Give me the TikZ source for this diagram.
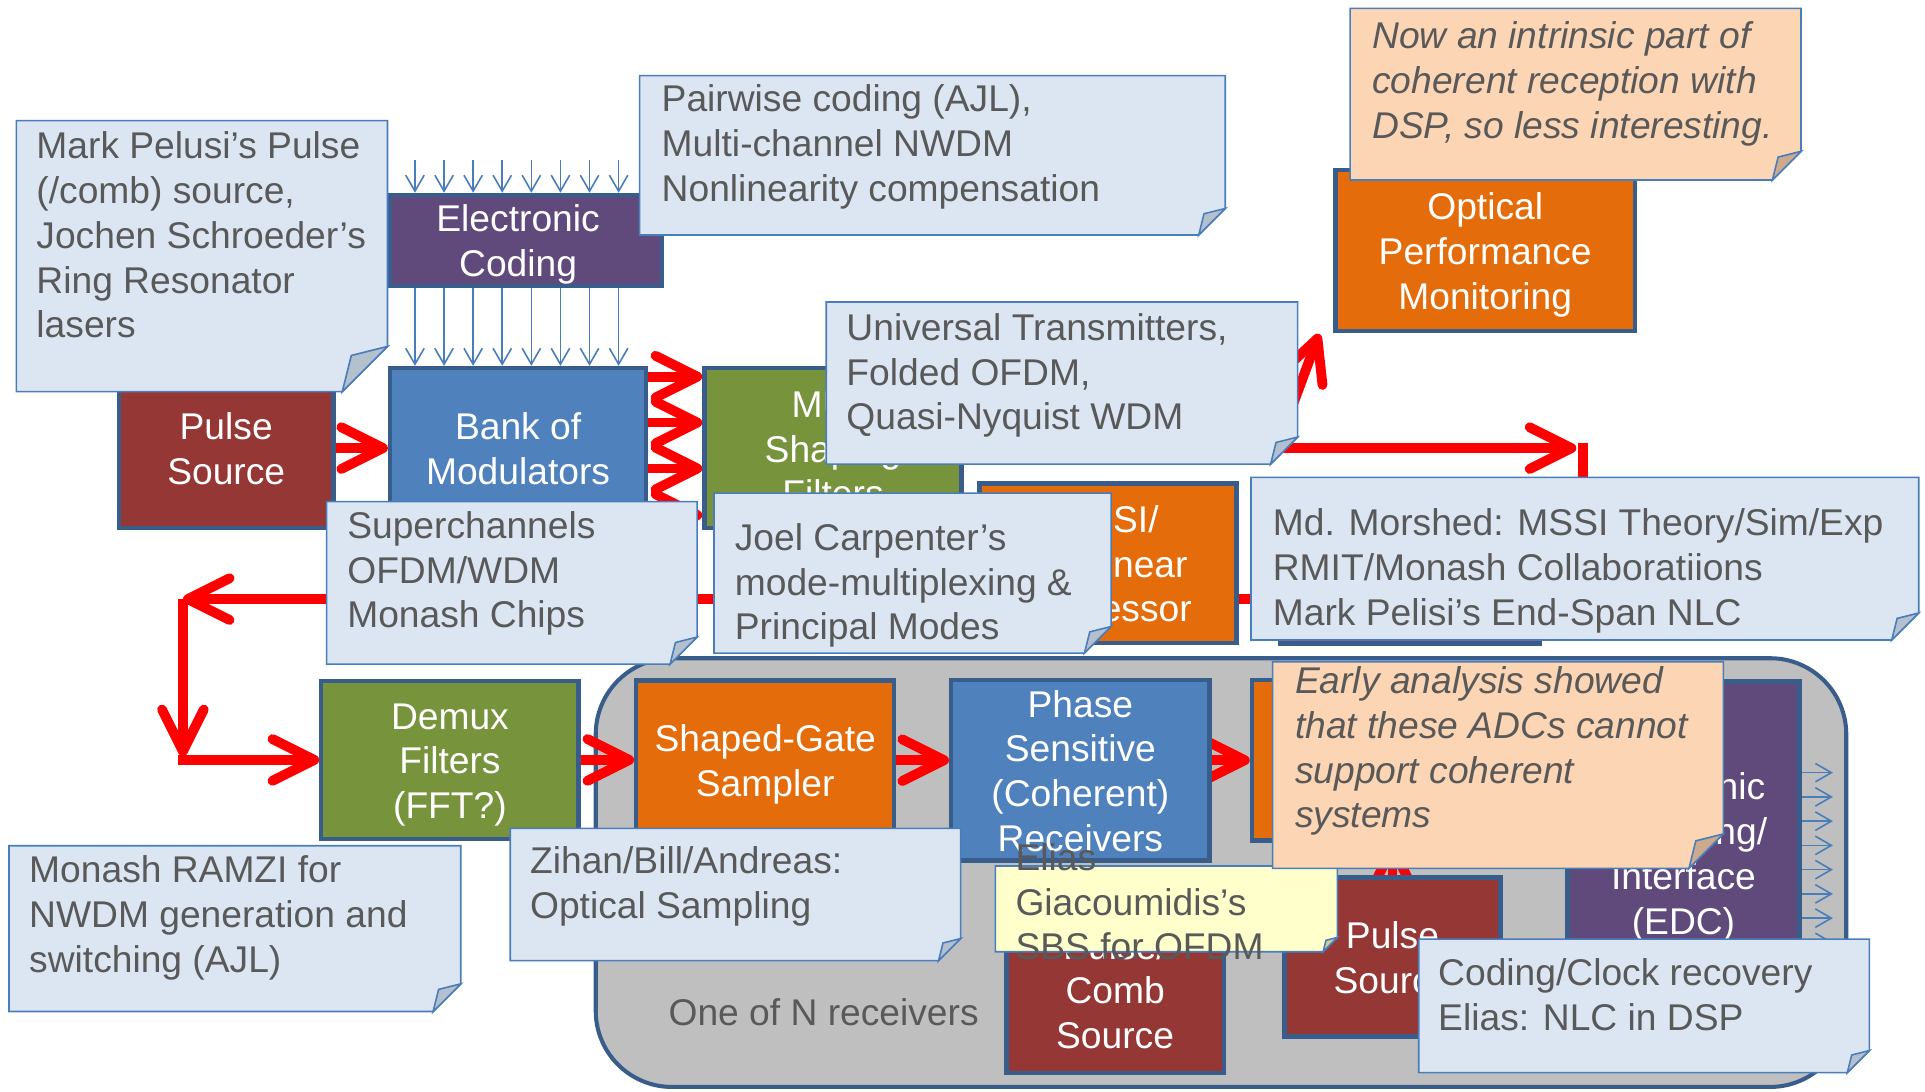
\documentclass[tikz,border=0pt]{standalone}
\usepackage{fontspec}
\setmainfont{Liberation Sans}
\usetikzlibrary{arrows.meta,calc}
\definecolor{cbord}{HTML}{4A7EBB}
\definecolor{cfill}{HTML}{DCE6F2}
\definecolor{cfold}{HTML}{B4C0CE}
\definecolor{pfill}{HTML}{FCD5B5}
\definecolor{pfold}{HTML}{CBAA8E}
\definecolor{yfill}{HTML}{FFFFCC}
\definecolor{yfold}{HTML}{CCCCA0}
\definecolor{bbord}{HTML}{385D8A}
\definecolor{cbrown}{HTML}{953735}
\definecolor{cpurple}{HTML}{604A7B}
\definecolor{cblue}{HTML}{4F81BD}
\definecolor{cgreen}{HTML}{77933C}
\definecolor{corange}{HTML}{E46C0A}
\definecolor{cgray}{HTML}{BFBFBF}
\definecolor{tgray}{HTML}{595959}
\newcommand\bstrut{\rule[-6.9pt]{0pt}{36.5pt}}
\newcommand\cfont{\fontsize{30.3pt}{36.5pt}\selectfont}
\pgfdeclarelayer{back}
\pgfdeclarelayer{lines}
\pgfsetlayers{back,lines,main}
\newcommand\callout[7]{%
 \draw[cline, fill=#5] (#1,#2) -- (#3,#2) -- (#3,{#4-#7}) -- ({#3-#7},#4) -- (#1,#4) -- cycle;
 \draw[cline, fill=#6] (#3,{#4-#7}) -- ({#3-#7},#4) -- ({#3-0.8*#7},{#4-0.8*#7}) -- cycle;}
\begin{document}
\begin{tikzpicture}[x=1pt,y=-1pt,
 block/.style={draw=bbord, line width=3.5pt, text=white, font=\cfont, align=center, inner sep=0pt},
 ctext/.style={anchor=north west, inner sep=0pt, text=tgray, font=\cfont, align=left},
 cline/.style={draw=cbord, line width=1.3pt, line join=miter},
 redarr/.style={draw=red, line width=8pt, -{Straight Barb[length=34pt,width=34pt,round]}},
 bluearr/.style={draw=cbord, line width=1.3pt, -{Straight Barb[length=13pt,width=15pt]}},
]
\useasboundingbox (0,0) rectangle (1568,889);
\begin{pgfonlayer}{back}
\fill[white] (0,0) rectangle (1568,889);
\node[draw=bbord, line width=3.3pt, fill=cgray, rounded corners=62pt, inner sep=0pt,
  minimum width=1018.6pt, minimum height=349.2pt] (region) at (994.55,710.75) {};
\end{pgfonlayer}

% blocks
\node[block, fill=cbrown, minimum width=175pt, minimum height=130.5pt] (ps1) at (184.25,365) {\bstrut Pulse\\Source\bstrut};
\node[block, fill=cpurple, minimum width=221.5pt, minimum height=74pt] (ec) at (428.5,195.75) {\bstrut Electronic\kern13pt\\Coding\kern13pt\bstrut};
\node[block, fill=cblue, minimum width=208.5pt, minimum height=130.5pt] (bank) at (422,365) {\bstrut Bank of\\Modulators\bstrut};
\node[block, fill=cgreen, minimum width=209.5pt, minimum height=130.5pt] (mux) at (678.5,365) {\bstrut MUX\\Shaping\\Filters\bstrut};
\node[block, fill=corange, minimum width=209.5pt, minimum height=130pt] (mssi) at (902.5,458.75) {\bstrut MSSI/\\Nonlinear\\Processor\bstrut};
\node[block, fill=cpurple, minimum width=211.5pt, minimum height=131pt] (hid) at (1148.5,459.25) {};
\node[block, fill=corange, minimum width=244pt, minimum height=131pt] (opm) at (1209.75,204.25) {\bstrut Optical\\Performance\\Monitoring\bstrut};
\node[block, fill=cgreen, minimum width=209.5pt, minimum height=128.5pt] (demux) at (366.5,619) {\bstrut Demux\\Filters\\(FFT?)\bstrut};
\node[block, fill=corange, minimum width=210pt, minimum height=130pt] (sgs) at (623.25,619.2) {\bstrut Shaped-Gate\\Sampler\bstrut};
\node[block, fill=cblue, minimum width=210.5pt, minimum height=146.8pt] (psr) at (880,627.55) {\bstrut Phase\\Sensitive\\(Coherent)\\Receivers\bstrut};
\node[block, fill=corange, minimum width=210.5pt, minimum height=130.5pt] (adc) at (1125,619.4) {};
\node[block, fill=cbrown, minimum width=177pt, minimum height=135pt] (pcs) at (908.3,806.3) {\bstrut Pulse/\\Comb\\Source\bstrut};
\node[block, fill=cbrown, minimum width=176pt, minimum height=129.5pt] (ps2) at (1134.25,779.5) {\bstrut Pulse\\Source\bstrut};
\node[block, fill=cpurple, minimum width=189pt, minimum height=280pt] (edc) at (1371.25,695) {\bstrut Electronic\\Decoding/\\Interface\\(EDC)\bstrut};
\node[ctext] (oneN) at (544.4,805.4) {\bstrut One of N receivers};

% connectors
\begin{pgfonlayer}{lines}
\draw[redarr] (ps1.east) -- (bank.west);
\foreach \s in {58.2pt,20.8pt,-16.6pt,-54.6pt}
  \draw[redarr] ([yshift=\s]bank.east) -- ([yshift=\s]mux.west);
\coordinate (k1) at (1284,365);
\draw[redarr] (mux.east) -- (k1);
\coordinate (k7) at (1040,365);
\draw[redarr] (k7) -- ($(opm.south west)+(-11.5,0.5)$);
\coordinate (k2) at (1289.5,361);
\coordinate (k3) at (1289.5,488);
\coordinate (k4) at (149,488);
\coordinate (k5) at (149,616);
\coordinate (k6) at (145,619);
\draw[redarr] (k2) -- (k3) -- (k4);
\draw[redarr] (k4) -- (k5);
\draw[redarr] (k6) -- (k6 -| demux.west);
\draw[redarr] (demux.east) -- (demux.east -| sgs.west);
\draw[redarr] (sgs.east) -- (sgs.east -| psr.west);
\draw[redarr] (sgs.east -| psr.east) -- (sgs.east -| adc.west);
\draw[redarr] (ps2.north) -- (ps2.north |- adc.south);
\foreach \i in {0,...,7} {
  \draw[bluearr] ($(ec.north west)+({22+23.7*\i},-27)$) -- ($(ec.north west)+({22+23.7*\i},0)$);
  \draw[bluearr] ($(ec.south west)+({22+23.7*\i},0)$) -- ($(bank.north west)+({22+23.7*\i},0)$);
  \draw[bluearr] ($(edc.north east)+(0,{76.1+19.75*\i})$) -- ++(25.5,0);
}
\end{pgfonlayer}

% callouts
\callout{13.4}{98.3}{315.6}{319}{cfill}{cfold}{36.8}
\node[ctext] (tmark) at (29.5,99.4) {\bstrut Mark Pelusi’s Pulse\\(/comb) source,\\Jochen Schroeder’s\\Ring Resonator\\lasers};
\callout{521}{61.6}{998}{191.4}{cfill}{cfold}{21.6}
\node[ctext] (tpair) at (538.8,61.4) {\bstrut Pairwise coding (AJL),\\Multi-channel NWDM\\Nonlinearity compensation};
\callout{1099.7}{6.8}{1467}{146.6}{pfill}{pfold}{23.3}
\node[ctext, font=\cfont\itshape] (tnow) at (1117.6,9.8) {\bstrut Now an intrinsic part of\\coherent reception with\\DSP, so less interesting.};
\callout{673}{246}{1057}{378}{cfill}{cfold}{22}
\node[ctext] (tuniv) at (689.3,247.4) {\bstrut Universal Transmitters,\\Folded OFDM,\\Quasi-Nyquist WDM};
\callout{266}{408.6}{567.8}{540.9}{cfill}{cfold}{22}
\node[ctext] (tsuper) at (282.7,408.7) {\bstrut Superchannels\\OFDM/WDM\\Monash Chips};
\callout{581.6}{401.7}{905}{532}{cfill}{cfold}{21.7}
\node[ctext] (tjoel) at (598.4,418.4) {\bstrut Joel Carpenter’s\\mode-multiplexing \&\\Principal Modes};
\callout{1019}{388.8}{1562.9}{521.3}{cfill}{cfold}{22}
\node[ctext] (tmorsh) at (1036.6,406.4) {\bstrut Md. Morshed: MSSI Theory/Sim/Exp\\RMIT/Monash Collaboratiions\\Mark Pelisi’s End-Span NLC};
\callout{7.3}{688.9}{375.3}{823.9}{cfill}{cfold}{22.5}
\node[ctext] (tramzi) at (23.6,689.3) {\bstrut Monash RAMZI for\\NWDM generation and\\switching (AJL)};
\callout{415.6}{674.7}{782.5}{782.5}{cfill}{cfold}{18}
\node[ctext] (tzihan) at (431.6,681.8) {\bstrut Zihan/Bill/Andreas:\\Optical Sampling};
\callout{810.8}{705.4}{1089.3}{775.2}{yfill}{yfold}{11.6}
\node[ctext] (telias) at (827,679) {\bstrut Elias\\Giacoumidis’s\\SBS for OFDM};
\callout{1036.6}{539}{1403.7}{707.3}{pfill}{pfold}{28}
\node[ctext, font=\cfont\itshape] (tearly) at (1054.7,535.1) {\bstrut Early analysis showed\\that these ADCs cannot\\support coherent\\systems};
\callout{1155.6}{764.9}{1522.7}{873.7}{cfill}{cfold}{18}
\node[ctext] (tcode) at (1171.3,772.7) {\bstrut Coding/Clock recovery\\Elias: NLC in DSP};
\end{tikzpicture}
\end{document}
